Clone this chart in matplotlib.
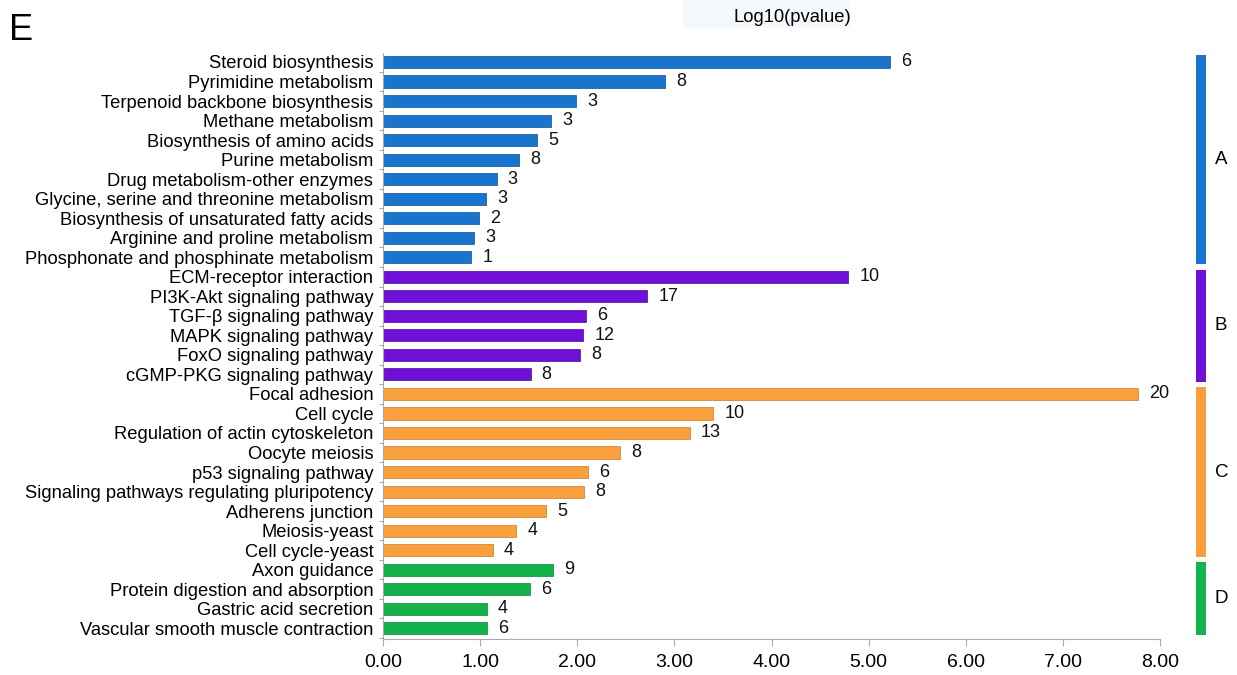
import matplotlib
matplotlib.use("Agg")
import matplotlib.pyplot as plt
from matplotlib.patches import Rectangle
from matplotlib.ticker import FixedLocator, FormatStrFormatter
from matplotlib.transforms import blended_transform_factory

plt.rcParams['font.family'] = ['Liberation Sans', 'DejaVu Sans']

pathways = [
    "Steroid biosynthesis", "Pyrimidine metabolism", "Terpenoid backbone biosynthesis",
    "Methane metabolism", "Biosynthesis of amino acids", "Purine metabolism",
    "Drug metabolism-other enzymes", "Glycine, serine and threonine metabolism",
    "Biosynthesis of unsaturated fatty acids", "Arginine and proline metabolism",
    "Phosphonate and phosphinate metabolism",
    "ECM-receptor interaction", "PI3K-Akt signaling pathway", "TGF-β signaling pathway",
    "MAPK signaling pathway", "FoxO signaling pathway", "cGMP-PKG signaling pathway",
    "Focal adhesion", "Cell cycle", "Regulation of actin cytoskeleton", "Oocyte meiosis",
    "p53 signaling pathway", "Signaling pathways regulating pluripotency",
    "Adherens junction", "Meiosis-yeast", "Cell cycle-yeast",
    "Axon guidance", "Protein digestion and absorption", "Gastric acid secretion",
    "Vascular smooth muscle contraction",
]
log_p = [
    5.22, 2.90, 1.99, 1.73, 1.59, 1.40, 1.17, 1.06, 0.99, 0.94, 0.91,
    4.79, 2.72, 2.09, 2.06, 2.03, 1.52,
    7.77, 3.40, 3.16, 2.44, 2.11, 2.07, 1.68, 1.37, 1.13,
    1.75, 1.51, 1.07, 1.07,
]
gene_counts = [
    6, 8, 3, 3, 5, 8, 3, 3, 2, 3, 1,
    10, 17, 6, 12, 8, 8,
    20, 10, 13, 8, 6, 8, 5, 4, 4,
    9, 6, 4, 6,
]
group_names = ["A", "B", "C", "D"]
group_sizes = [11, 6, 9, 4]
group_colors = ["#1874cd", "#6f10d8", "#f9a03c", "#13b24b"]
group_edges = ["#0e4f8f", "#4c0a9a", "#c77a25", "#0b8034"]

x_ticks = [0, 1, 2, 3, 4, 5, 6, 7, 8]

fig = plt.figure(figsize=(12.37, 6.75), dpi=100)
ax = fig.add_axes([383 / 1237, 1 - 639 / 675, (1160 - 383) / 1237, (639 - 53) / 675])

bar_colors, edge_colors = [], []
for fc, ec, size in zip(group_colors, group_edges, group_sizes):
    bar_colors += [fc] * size
    edge_colors += [ec] * size

ypos = list(range(len(pathways)))
ax.barh(ypos, log_p, height=0.62, color=bar_colors, edgecolor=edge_colors, linewidth=0.5)

for y, v, n in zip(ypos, log_p, gene_counts):
    ax.annotate(str(n), (v, y), xytext=(8, 0), textcoords="offset points",
                va="center", ha="left", fontsize=13, color="#111111")

ax.set_xlim(0, 8)
ax.set_ylim(29.55, -0.46)
ax.xaxis.set_major_locator(FixedLocator(x_ticks))
ax.xaxis.set_major_formatter(FormatStrFormatter("%.2f"))
ax.set_yticks(ypos)
ax.set_yticklabels(pathways, fontsize=13.2)
ax.yaxis.set_minor_locator(FixedLocator([i - 0.5 for i in range(len(pathways) + 1)]))
ax.tick_params(axis="y", which="major", length=0, pad=7)
ax.tick_params(axis="y", which="minor", length=3, color="#aaaaaa", width=0.8)
ax.tick_params(axis="x", length=5, color="#aaaaaa", width=0.8, labelsize=14, pad=6)
for s in ["top", "right"]:
    ax.spines[s].set_visible(False)
for s in ["left", "bottom"]:
    ax.spines[s].set_color("#aaaaaa")
    ax.spines[s].set_linewidth(0.8)

# group indicator strips on the right
gax = fig.add_axes([1196 / 1237, 1 - 639 / 675, 10 / 1237, (639 - 53) / 675], sharey=ax)
gax.set_xlim(0, 1)
gax.axis("off")
label_tf = blended_transform_factory(fig.transFigure, gax.transData)
start = 0
for name, size, color in zip(group_names, group_sizes, group_colors):
    y0 = start - 0.5 + 0.13
    y1 = start + size - 0.5 - 0.13
    gax.add_patch(Rectangle((0, y0), 1, y1 - y0, facecolor=color, edgecolor="none"))
    fig.text(1215 / 1237, (y0 + y1) / 2, name, fontsize=13.5, va="center", ha="left",
             transform=label_tf)
    start += size

fig.patches.append(Rectangle((683 / 1237, 1 - 28 / 675), 167 / 1237, 28 / 675,
                             transform=fig.transFigure, facecolor="#f6f9fc",
                             edgecolor="none", zorder=0))
fig.text(792 / 1237, 1 - 18 / 675, "Log10(pvalue)", fontsize=13.2, ha="center", va="center")
fig.text(9 / 1237, 1 - 30 / 675, "E", fontsize=26, ha="left", va="center")

fig.savefig("out.png", dpi=100, facecolor="white")
